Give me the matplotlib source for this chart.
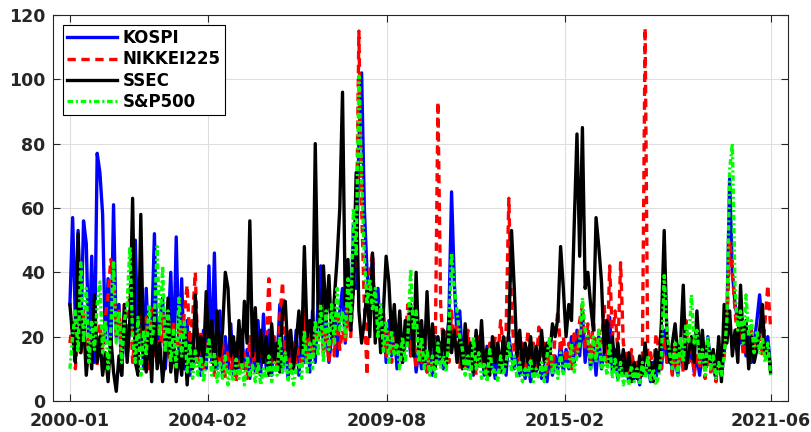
import matplotlib
matplotlib.use("Agg")
import matplotlib.pyplot as plt
import numpy as np

# Monthly estimates, 2000-01 .. 2021-06 (258 months)
kospi = [
    30, 57, 25, 53, 20, 56, 49, 15, 45, 12, 77, 71,
    58, 18, 38, 12, 61, 20, 30, 8, 28, 14, 25, 22,
    50, 15, 30, 10, 35, 14, 22, 52, 12, 25, 32, 10,
    22, 40, 12, 51, 15, 38, 10, 25, 8, 20, 12, 18,
    8, 22, 10, 42, 12, 46, 10, 28, 8, 20, 10, 24,
    8, 18, 9, 22, 10, 16, 7, 20, 9, 25, 8, 27,
    10, 22, 8, 18, 12, 30, 9, 20, 7, 18, 10, 22,
    8, 20, 12, 25, 9, 28, 12, 30, 42, 15, 25, 12,
    20, 30, 14, 28, 35, 18, 40, 22, 55, 35, 80, 102,
    60, 40, 30, 45, 22, 35, 18, 28, 12, 25, 14, 22,
    10, 20, 12, 18, 25, 14, 20, 9, 16, 10, 18, 9,
    14, 8, 20, 12, 18, 10, 15, 25, 65, 37, 20, 28,
    12, 22, 10, 18, 8, 20, 11, 16, 8, 17, 10, 14,
    7, 15, 9, 18, 8, 20, 14, 10, 16, 8, 12, 7,
    12, 6, 14, 9, 13, 7, 11, 6, 15, 8, 14, 10,
    18, 9, 16, 10, 20, 12, 22, 14, 28, 12, 20, 10,
    18, 8, 20, 10, 15, 12, 26, 9, 16, 7, 14, 8,
    12, 6, 14, 7, 10, 5, 13, 8, 11, 6, 12, 7,
    14, 10, 22, 12, 16, 9, 14, 8, 18, 10, 20, 12,
    16, 9, 14, 8, 15, 10, 20, 12, 10, 7, 14, 8,
    15, 25, 69, 40, 30, 25, 18, 22, 14, 20, 12, 18,
    25, 33, 22, 16, 20, 10,
]

nikkei = [
    18, 25, 10, 22, 14, 28, 12, 20, 15, 30, 11, 24,
    16, 26, 33, 44, 39, 20, 28, 14, 30, 18, 35, 12,
    22, 12, 28, 15, 26, 10, 30, 14, 24, 12, 27, 15,
    20, 10, 25, 12, 22, 15, 28, 36, 18, 26, 40, 12,
    22, 10, 28, 14, 20, 8, 24, 12, 18, 7, 16, 10,
    14, 6, 18, 9, 15, 7, 20, 10, 16, 8, 22, 12,
    18, 38, 12, 20, 10, 26, 37, 14, 22, 9, 18, 12,
    16, 10, 28, 12, 20, 14, 24, 18, 30, 15, 22, 12,
    25, 14, 28, 16, 22, 18, 30, 20, 35, 45, 115, 60,
    30, 8, 40, 46, 25, 30, 18, 26, 14, 22, 12, 20,
    15, 24, 12, 20, 30, 14, 22, 10, 18, 12, 20, 9,
    16, 10, 14, 93, 30, 16, 22, 12, 28, 18, 24, 10,
    18, 10, 22, 12, 16, 8, 20, 10, 15, 7, 18, 12,
    20, 14, 25, 16, 22, 63, 28, 15, 20, 12, 18, 10,
    22, 12, 18, 10, 23, 14, 18, 9, 16, 10, 20, 28,
    15, 20, 12, 18, 10, 22, 14, 25, 30, 16, 24, 12,
    26, 14, 22, 18, 30, 12, 42, 20, 28, 15, 43, 18,
    14, 8, 16, 10, 12, 7, 14, 116, 9, 15, 8, 21,
    16, 10, 20, 12, 14, 8, 18, 10, 16, 9, 25, 12,
    18, 8, 15, 10, 20, 7, 14, 9, 12, 6, 15, 8,
    14, 22, 50, 40, 28, 18, 24, 14, 20, 12, 22, 15,
    18, 20, 14, 25, 36, 23,
]

ssec = [
    30, 20, 12, 52, 15, 25, 8, 18, 10, 33, 12, 20,
    8, 15, 6, 20, 9, 3, 14, 8, 30, 12, 25, 63,
    12, 8, 58, 15, 9, 22, 6, 28, 10, 18, 6, 15,
    32, 9, 20, 6, 15, 8, 22, 5, 18, 10, 33, 14,
    20, 12, 34, 15, 25, 10, 28, 14, 22, 40, 35, 14,
    20, 10, 25, 12, 31, 18, 56, 14, 29, 10, 22, 12,
    20, 8, 24, 12, 18, 9, 28, 31, 14, 22, 10, 18,
    28, 15, 48, 20, 25, 18, 80, 30, 22, 42, 25, 39,
    20, 32, 44, 60, 96, 30, 44, 22, 35, 71, 28, 18,
    25, 35, 20, 46, 18, 30, 15, 28, 45, 37, 20, 30,
    15, 28, 12, 25, 18, 30, 14, 40, 16, 25, 12, 34,
    14, 24, 10, 20, 13, 22, 11, 26, 15, 22, 12, 20,
    10, 24, 12, 18, 9, 22, 11, 25, 10, 16, 8, 20,
    12, 18, 9, 20, 11, 22, 53, 35, 14, 22, 10, 18,
    12, 20, 9, 17, 10, 22, 12, 18, 14, 24, 20, 26,
    48, 35, 20, 30, 25, 55, 83, 45, 85, 35, 40, 30,
    22, 57, 48, 37, 15, 25, 12, 20, 10, 18, 9, 16,
    8, 15, 6, 12, 7, 14, 8, 18, 10, 12, 6, 16,
    9, 25, 53, 20, 12, 18, 24, 14, 18, 36, 10, 15,
    20, 12, 28, 14, 22, 10, 18, 12, 16, 8, 20, 6,
    30, 18, 28, 14, 22, 12, 36, 18, 25, 10, 20, 12,
    16, 22, 30, 14, 18, 9,
]

sp500 = [
    10, 20, 28, 15, 43, 18, 35, 12, 25, 16, 30, 37,
    15, 25, 10, 22, 43, 18, 28, 12, 25, 30, 48, 20,
    12, 26, 8, 22, 14, 30, 18, 25, 48, 20, 42, 15,
    28, 12, 22, 10, 32, 14, 25, 9, 18, 7, 16, 8,
    14, 6, 12, 19, 8, 15, 6, 12, 7, 14, 5, 10,
    6, 13, 7, 12, 5, 14, 8, 11, 6, 12, 5, 10,
    7, 14, 6, 12, 8, 20, 9, 15, 6, 12, 5, 10,
    12, 7, 22, 9, 18, 10, 25, 14, 30, 12, 28, 16,
    30, 18, 35, 22, 28, 20, 38, 25, 60, 45, 101, 70,
    45, 30, 38, 28, 35, 20, 30, 15, 25, 12, 22, 14,
    18, 10, 20, 12, 20, 41, 22, 28, 12, 20, 10, 16,
    8, 14, 7, 18, 10, 14, 9, 20, 46, 35, 28, 20,
    16, 8, 14, 7, 20, 10, 15, 7, 12, 6, 16, 9,
    10, 6, 14, 8, 12, 18, 9, 14, 7, 12, 6, 10,
    8, 13, 6, 10, 7, 12, 6, 14, 20, 8, 12, 7,
    15, 8, 12, 10, 18, 9, 14, 18, 32, 22, 20, 10,
    20, 12, 22, 10, 14, 8, 18, 7, 13, 6, 12, 5,
    9, 5, 11, 6, 10, 5, 12, 7, 14, 6, 10, 5,
    8, 14, 39, 22, 15, 10, 18, 8, 20, 12, 24, 18,
    33, 18, 22, 12, 16, 8, 20, 10, 14, 7, 12, 8,
    14, 25, 72, 80, 35, 22, 28, 18, 33, 20, 25, 15,
    22, 15, 20, 12, 18, 8,
]

tick_labels = ["2000-01", "2004-02", "2009-08", "2015-02", "2021-06"]
tick_months = [0, 50.6, 116.2, 181.6, 257]
series_names = ["KOSPI", "NIKKEI225", "SSEC", "S&P500"]

plt.rcParams['font.family'] = ['DejaVu Sans']
plt.rcParams['font.weight'] = 'bold'
plt.rcParams['lines.scale_dashes'] = False

fig = plt.figure(figsize=(8.11, 4.32), dpi=100)
ax = fig.add_axes([0.0657, 0.0718, 0.9059, 0.8935])

m = np.arange(len(kospi))
lw = 2.4
ax.plot(m, kospi, color=(0, 0, 1), lw=lw, ls='-', label=series_names[0])
ax.plot(m, nikkei, color=(1, 0, 0), lw=lw, dashes=(6, 4), label=series_names[1])
ax.plot(m, ssec, color='black', lw=lw, ls='-', label=series_names[2])
ax.plot(m, sp500, color=(0, 1, 0), lw=lw, dashes=(4, 2, 1.5, 2), label=series_names[3])

ax.set_xlim(-6.1, 263.4)
ax.set_ylim(0, 120)
ax.set_yticks([0, 20, 40, 60, 80, 100, 120])
ax.set_xticks(tick_months)
ax.set_xticklabels(tick_labels)
ax.grid(True, color='#dedede', lw=0.8)
ax.set_axisbelow(True)
ax.tick_params(direction='in', top=True, right=True, length=5, width=0.8,
               colors='#262626', labelsize=12.5)
ax.tick_params(axis='x', pad=8)
ax.tick_params(axis='y', pad=6)
for lab in ax.get_xticklabels() + ax.get_yticklabels():
    lab.set_fontweight('bold')
for s in ax.spines.values():
    s.set_color('#262626')
    s.set_linewidth(0.8)

leg = ax.legend(loc='upper left', bbox_to_anchor=(0.0, 1.0), borderaxespad=0.6,
                fancybox=False, framealpha=1, edgecolor='black',
                prop={'weight': 'bold', 'size': 12}, handlelength=3.0,
                labelspacing=0.2, handletextpad=0.3, borderpad=0.25)
leg.get_frame().set_linewidth(0.8)

fig.savefig("out.png", dpi=100)
